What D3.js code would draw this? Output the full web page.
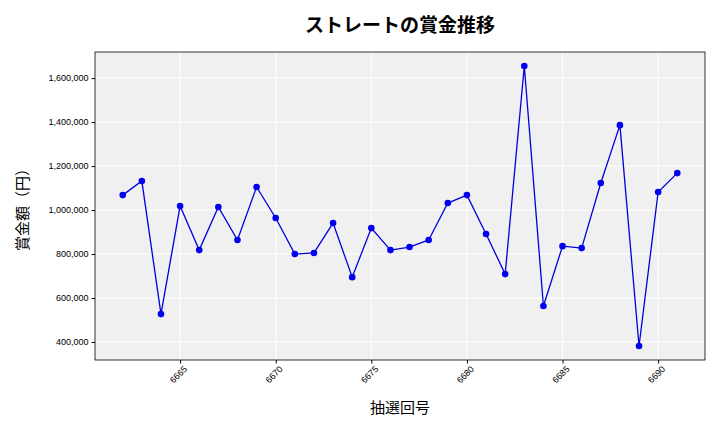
<!DOCTYPE html>
<html><head><meta charset="utf-8">
<script src="https://cdn.jsdelivr.net/npm/d3@7"></script>
<style>body{margin:0;background:#fff;font-family:"Noto Sans CJK JP","DejaVu Sans",sans-serif}</style>
</head><body><div id="chart"></div>
<script>
const draws = d3.range(6662, 6692);
const prizes = [1068000, 1132000, 527000, 1018000, 818000, 1014000, 864000, 1105000, 964000, 800000,
    805000, 941000, 695000, 918000, 818000, 832000, 864000, 1032000, 1068000, 891000,
    709000, 1655000, 564000, 836000, 827000, 1123000, 1386000, 382000, 1082000, 1168000];
const xTicks = [6665, 6670, 6675, 6680, 6685, 6690];
const yTicks = [400000, 600000, 800000, 1000000, 1200000, 1400000, 1600000];

const margin = { left: 95, right: 15, top: 52, bottom: 72 };
const W = 720, H = 432;
const width = W - margin.left - margin.right;
const height = H - margin.top - margin.bottom;

const svg = d3.select("#chart").append("svg").attr("width", W).attr("height", H);
const g = svg.append("g").attr("transform", `translate(${margin.left},${margin.top})`);

const xPad = (d3.max(draws) - d3.min(draws)) * 0.05;
const x = d3.scaleLinear().domain([d3.min(draws) - xPad, d3.max(draws) + xPad]).range([0, width]);
const yPad = (d3.max(prizes) - d3.min(prizes)) * 0.05;
const y = d3.scaleLinear().domain([d3.min(prizes) - yPad, d3.max(prizes) + yPad]).range([height, 0]);

g.append("rect").attr("width", width).attr("height", height).attr("fill", "#f0f0f0");

// grid
g.selectAll(".gx").data(xTicks).join("line")
    .attr("x1", d => x(d)).attr("x2", d => x(d)).attr("y1", 0).attr("y2", height)
    .attr("stroke", "#fff").attr("stroke-width", 1);
g.selectAll(".gy").data(yTicks).join("line")
    .attr("y1", d => y(d)).attr("y2", d => y(d)).attr("x1", 0).attr("x2", width)
    .attr("stroke", "#fff").attr("stroke-width", 1);

g.append("rect").attr("width", width).attr("height", height)
    .attr("fill", "none").attr("stroke", "#000").attr("stroke-width", 0.8);

const xAxis = g.append("g").attr("transform", `translate(0,${height})`)
    .call(d3.axisBottom(x).tickValues(xTicks).tickSize(3.5).tickFormat(d3.format("d")));
xAxis.selectAll("text").attr("font-size", 9).attr("transform", "rotate(-45)")
    .attr("text-anchor", "end").attr("dx", "-0.2em").attr("dy", "0.6em");
const yAxis = g.append("g")
    .call(d3.axisLeft(y).tickValues(yTicks).tickSize(3.5).tickFormat(d3.format(",")));
yAxis.selectAll("text").attr("font-size", 9);
svg.selectAll(".domain").remove();

const line = d3.line().x((d, i) => x(draws[i])).y(d => y(d));
g.append("path").attr("d", line(prizes)).attr("fill", "none").attr("stroke", "#0000dd").attr("stroke-width", 1.3);
g.selectAll(".pt").data(prizes).join("circle")
    .attr("cx", (d, i) => x(draws[i])).attr("cy", d => y(d)).attr("r", 3.3).attr("fill", "#0000ee");

svg.append("text").attr("x", margin.left + width / 2).attr("y", 32).attr("text-anchor", "middle")
    .attr("font-size", 19).attr("font-weight", "bold").text("ストレートの賞金推移");
svg.append("text").attr("x", margin.left + width / 2).attr("y", 413).attr("text-anchor", "middle")
    .attr("font-size", 15).text("抽選回号");
svg.append("text").attr("transform", `translate(28,${margin.top + height / 2}) rotate(-90)`)
    .attr("text-anchor", "middle").attr("font-size", 15).text("賞金額（円）");
</script></body></html>
